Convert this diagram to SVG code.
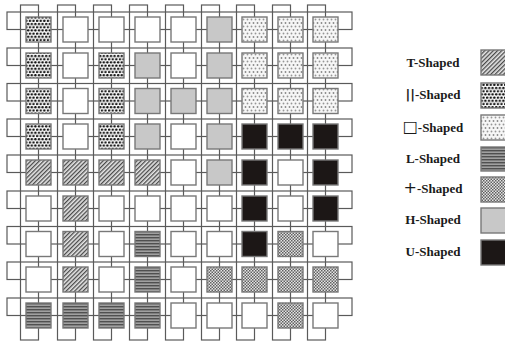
<svg xmlns="http://www.w3.org/2000/svg" width="505" height="344" viewBox="0 0 505 344">
<defs>
<pattern id="pT" width="3" height="3" patternUnits="userSpaceOnUse" patternTransform="rotate(45)">
<rect width="3" height="3" fill="#e6e6e6"/><rect width="1.3" height="3" fill="#4a4a4a"/>
</pattern>
<pattern id="pP" width="3.6" height="6.4" patternUnits="userSpaceOnUse">
<rect width="3.6" height="6.4" fill="#fff"/><circle cx="1.2" cy="1.6" r="1.25" fill="#111"/><circle cx="3" cy="4.8" r="1.25" fill="#111"/><circle cx="-0.6" cy="4.8" r="1.25" fill="#111"/>
</pattern>
<pattern id="pS" width="4" height="7" patternUnits="userSpaceOnUse">
<rect width="4" height="7" fill="#f6f6f6"/><circle cx="1.5" cy="2" r="0.9" fill="#888"/><circle cx="3.5" cy="5.5" r="0.9" fill="#969696"/><circle cx="-0.5" cy="5.5" r="0.9" fill="#969696"/>
</pattern>
<pattern id="pL" width="4" height="3" patternUnits="userSpaceOnUse">
<rect width="4" height="3" fill="#a0a0a0"/><rect width="4" height="1.4" fill="#505050"/>
</pattern>
<pattern id="pX" width="3" height="3" patternUnits="userSpaceOnUse">
<rect width="3" height="3" fill="#e4e4e4"/><rect width="1.5" height="1.5" fill="#606060"/><rect x="1.5" y="1.5" width="1.5" height="1.5" fill="#606060"/>
</pattern>
</defs>
<style>
.c{fill:none;stroke:#5a5a5a;stroke-width:1.2}
.n{stroke:#787878;stroke-width:1.4}
.W{fill:#fff}
.H{fill:#c8c8c8}
.U{fill:#1c1716}
.T{fill:url(#pT)}
.P{fill:url(#pP)}
.S{fill:url(#pS)}
.L{fill:url(#pL)}
.X{fill:url(#pX)}
.lt{font-family:"Liberation Serif","Times New Roman",serif;font-weight:bold;font-size:13px;fill:#1a1a1a;text-anchor:middle}
.big{font-family:"DejaVu Sans",sans-serif;font-weight:normal;font-size:16px}
.bar{font-family:"DejaVu Sans",sans-serif;font-weight:bold}
</style>
<rect width="505" height="344" fill="#fff"/>
<g id="connectors">
<rect class="c" x="20.5" y="5" width="18" height="335"/>
<rect class="c" x="57.5" y="5" width="18" height="335"/>
<rect class="c" x="93.5" y="5" width="18" height="335"/>
<rect class="c" x="129.5" y="5" width="18" height="335"/>
<rect class="c" x="165.5" y="5" width="18" height="335"/>
<rect class="c" x="201.5" y="5" width="18" height="335"/>
<rect class="c" x="236.5" y="5" width="18" height="335"/>
<rect class="c" x="272.5" y="5" width="18" height="335"/>
<rect class="c" x="307.5" y="5" width="18" height="335"/>
<rect class="c" x="7" y="12" width="345" height="17.5"/>
<rect class="c" x="7" y="48" width="345" height="17.5"/>
<rect class="c" x="7" y="83.5" width="345" height="17.5"/>
<rect class="c" x="7" y="119" width="345" height="17.5"/>
<rect class="c" x="7" y="155" width="345" height="17.5"/>
<rect class="c" x="7" y="191" width="345" height="17.5"/>
<rect class="c" x="7" y="226.5" width="345" height="17.5"/>
<rect class="c" x="7" y="262" width="345" height="17.5"/>
<rect class="c" x="7" y="298" width="345" height="17.5"/>
</g>
<g id="r1">
<g id="n1-1"><rect class="n P" x="26" y="17" width="25" height="25"/></g>
<g id="n1-2"><rect class="n W" x="63" y="17" width="25" height="25"/></g>
<g id="n1-3"><rect class="n W" x="99" y="17" width="25" height="25"/></g>
<g id="n1-4"><rect class="n W" x="135" y="17" width="25" height="25"/></g>
<g id="n1-5"><rect class="n W" x="171" y="17" width="25" height="25"/></g>
<g id="n1-6"><rect class="n H" x="207" y="17" width="25" height="25"/></g>
<g id="n1-7"><rect class="n S" x="242" y="17" width="25" height="25"/></g>
<g id="n1-8"><rect class="n S" x="278" y="17" width="25" height="25"/></g>
<g id="n1-9"><rect class="n S" x="313" y="17" width="25" height="25"/></g>
</g>
<g id="r2">
<g id="n2-1"><rect class="n P" x="26" y="53" width="25" height="25"/></g>
<g id="n2-2"><rect class="n W" x="63" y="53" width="25" height="25"/></g>
<g id="n2-3"><rect class="n P" x="99" y="53" width="25" height="25"/></g>
<g id="n2-4"><rect class="n H" x="135" y="53" width="25" height="25"/></g>
<g id="n2-5"><rect class="n W" x="171" y="53" width="25" height="25"/></g>
<g id="n2-6"><rect class="n H" x="207" y="53" width="25" height="25"/></g>
<g id="n2-7"><rect class="n S" x="242" y="53" width="25" height="25"/></g>
<g id="n2-8"><rect class="n S" x="278" y="53" width="25" height="25"/></g>
<g id="n2-9"><rect class="n S" x="313" y="53" width="25" height="25"/></g>
</g>
<g id="r3">
<g id="n3-1"><rect class="n P" x="26" y="88.5" width="25" height="25"/></g>
<g id="n3-2"><rect class="n W" x="63" y="88.5" width="25" height="25"/></g>
<g id="n3-3"><rect class="n P" x="99" y="88.5" width="25" height="25"/></g>
<g id="n3-4"><rect class="n H" x="135" y="88.5" width="25" height="25"/></g>
<g id="n3-5"><rect class="n H" x="171" y="88.5" width="25" height="25"/></g>
<g id="n3-6"><rect class="n H" x="207" y="88.5" width="25" height="25"/></g>
<g id="n3-7"><rect class="n S" x="242" y="88.5" width="25" height="25"/></g>
<g id="n3-8"><rect class="n S" x="278" y="88.5" width="25" height="25"/></g>
<g id="n3-9"><rect class="n S" x="313" y="88.5" width="25" height="25"/></g>
</g>
<g id="r4">
<g id="n4-1"><rect class="n P" x="26" y="124" width="25" height="25"/></g>
<g id="n4-2"><rect class="n W" x="63" y="124" width="25" height="25"/></g>
<g id="n4-3"><rect class="n P" x="99" y="124" width="25" height="25"/></g>
<g id="n4-4"><rect class="n H" x="135" y="124" width="25" height="25"/></g>
<g id="n4-5"><rect class="n W" x="171" y="124" width="25" height="25"/></g>
<g id="n4-6"><rect class="n H" x="207" y="124" width="25" height="25"/></g>
<g id="n4-7"><rect class="n U" x="242" y="124" width="25" height="25"/></g>
<g id="n4-8"><rect class="n U" x="278" y="124" width="25" height="25"/></g>
<g id="n4-9"><rect class="n U" x="313" y="124" width="25" height="25"/></g>
</g>
<g id="r5">
<g id="n5-1"><rect class="n T" x="26" y="160" width="25" height="25"/></g>
<g id="n5-2"><rect class="n T" x="63" y="160" width="25" height="25"/></g>
<g id="n5-3"><rect class="n T" x="99" y="160" width="25" height="25"/></g>
<g id="n5-4"><rect class="n T" x="135" y="160" width="25" height="25"/></g>
<g id="n5-5"><rect class="n W" x="171" y="160" width="25" height="25"/></g>
<g id="n5-6"><rect class="n H" x="207" y="160" width="25" height="25"/></g>
<g id="n5-7"><rect class="n U" x="242" y="160" width="25" height="25"/></g>
<g id="n5-8"><rect class="n W" x="278" y="160" width="25" height="25"/></g>
<g id="n5-9"><rect class="n U" x="313" y="160" width="25" height="25"/></g>
</g>
<g id="r6">
<g id="n6-1"><rect class="n W" x="26" y="196" width="25" height="25"/></g>
<g id="n6-2"><rect class="n T" x="63" y="196" width="25" height="25"/></g>
<g id="n6-3"><rect class="n W" x="99" y="196" width="25" height="25"/></g>
<g id="n6-4"><rect class="n W" x="135" y="196" width="25" height="25"/></g>
<g id="n6-5"><rect class="n W" x="171" y="196" width="25" height="25"/></g>
<g id="n6-6"><rect class="n W" x="207" y="196" width="25" height="25"/></g>
<g id="n6-7"><rect class="n U" x="242" y="196" width="25" height="25"/></g>
<g id="n6-8"><rect class="n W" x="278" y="196" width="25" height="25"/></g>
<g id="n6-9"><rect class="n U" x="313" y="196" width="25" height="25"/></g>
</g>
<g id="r7">
<g id="n7-1"><rect class="n W" x="26" y="231.5" width="25" height="25"/></g>
<g id="n7-2"><rect class="n T" x="63" y="231.5" width="25" height="25"/></g>
<g id="n7-3"><rect class="n W" x="99" y="231.5" width="25" height="25"/></g>
<g id="n7-4"><rect class="n L" x="135" y="231.5" width="25" height="25"/></g>
<g id="n7-5"><rect class="n W" x="171" y="231.5" width="25" height="25"/></g>
<g id="n7-6"><rect class="n W" x="207" y="231.5" width="25" height="25"/></g>
<g id="n7-7"><rect class="n U" x="242" y="231.5" width="25" height="25"/></g>
<g id="n7-8"><rect class="n X" x="278" y="231.5" width="25" height="25"/></g>
<g id="n7-9"><rect class="n W" x="313" y="231.5" width="25" height="25"/></g>
</g>
<g id="r8">
<g id="n8-1"><rect class="n W" x="26" y="267" width="25" height="25"/></g>
<g id="n8-2"><rect class="n T" x="63" y="267" width="25" height="25"/></g>
<g id="n8-3"><rect class="n W" x="99" y="267" width="25" height="25"/></g>
<g id="n8-4"><rect class="n L" x="135" y="267" width="25" height="25"/></g>
<g id="n8-5"><rect class="n W" x="171" y="267" width="25" height="25"/></g>
<g id="n8-6"><rect class="n X" x="207" y="267" width="25" height="25"/></g>
<g id="n8-7"><rect class="n X" x="242" y="267" width="25" height="25"/></g>
<g id="n8-8"><rect class="n X" x="278" y="267" width="25" height="25"/></g>
<g id="n8-9"><rect class="n X" x="313" y="267" width="25" height="25"/></g>
</g>
<g id="r9">
<g id="n9-1"><rect class="n L" x="26" y="303" width="25" height="25"/></g>
<g id="n9-2"><rect class="n L" x="63" y="303" width="25" height="25"/></g>
<g id="n9-3"><rect class="n L" x="99" y="303" width="25" height="25"/></g>
<g id="n9-4"><rect class="n L" x="135" y="303" width="25" height="25"/></g>
<g id="n9-5"><rect class="n W" x="171" y="303" width="25" height="25"/></g>
<g id="n9-6"><rect class="n W" x="207" y="303" width="25" height="25"/></g>
<g id="n9-7"><rect class="n W" x="242" y="303" width="25" height="25"/></g>
<g id="n9-8"><rect class="n X" x="278" y="303" width="25" height="25"/></g>
<g id="n9-9"><rect class="n W" x="313" y="303" width="25" height="25"/></g>
</g>
<g id="legend">
<g id="lg-T"><text class="lt" x="433" y="67">T-Shaped</text><rect class="n T" x="481" y="50" width="25" height="25"/></g>
<g id="lg-P"><text class="lt" x="433" y="99"><tspan class="bar">||</tspan>-Shaped</text><rect class="n P" x="481" y="83" width="25" height="25"/></g>
<g id="lg-S"><text class="lt" x="433" y="132"><tspan class="big">□</tspan>-Shaped</text><rect class="n S" x="481" y="115" width="25" height="25"/></g>
<g id="lg-L"><text class="lt" x="433" y="163">L-Shaped</text><rect class="n L" x="481" y="147" width="25" height="24"/></g>
<g id="lg-X"><text class="lt" x="433" y="193"><tspan class="big">+</tspan>-Shaped</text><rect class="n X" x="481" y="177" width="25" height="25"/></g>
<g id="lg-H"><text class="lt" x="433" y="224">H-Shaped</text><rect class="n H" x="481" y="208" width="25" height="25"/></g>
<g id="lg-U"><text class="lt" x="433" y="256">U-Shaped</text><rect class="n U" x="481" y="240" width="25" height="25"/></g>
</g>
</svg>
